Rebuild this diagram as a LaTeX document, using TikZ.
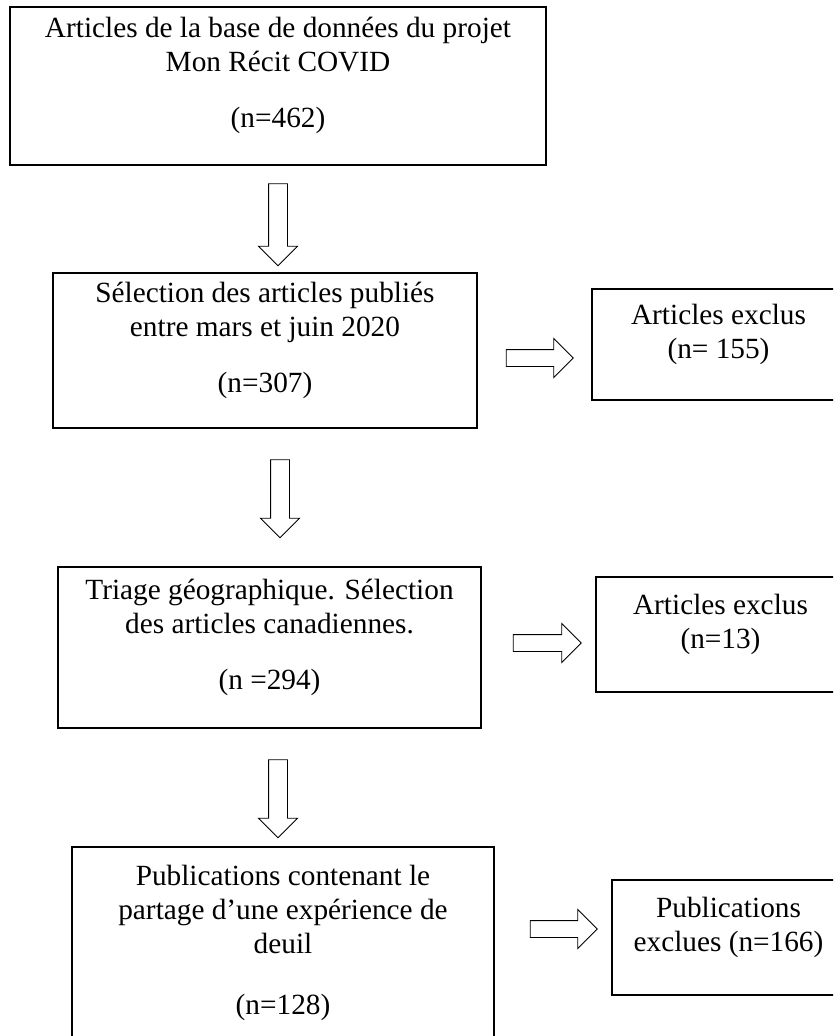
\documentclass[tikz,border=0pt]{standalone}
\usepackage{fontspec}
\setmainfont{Liberation Serif}
\usetikzlibrary{shapes.arrows, fit}

\tikzset{
  stepbox/.style={draw, line width=1.4pt, inner sep=0pt, align=center,
    font=\fontsize{25}{29}\selectfont},
  blockarrow/.style={draw, single arrow, line width=0.8pt, inner sep=0.27cm,
    single arrow head extend=0.3cm, single arrow tip angle=90, minimum width=0pt},
  sidearrow/.style={blockarrow, inner sep=0.24cm, single arrow head extend=0.33cm},
}

\begin{document}
\begin{tikzpicture}[x=0.03cm, y=-0.03cm]
\path[use as bounding box, clip] (0,0) rectangle (833,1036);

% main column
\node[stepbox, fit={(10,7) (546,165)}] (base)
  {Articles de la base de données du projet\\Mon Récit COVID\\[19pt](n=462)};
\node[stepbox, fit={(53,273) (477,428)}] (dates)
  {Sélection des articles publiés\\entre mars et juin 2020\\[19pt](n=307)};
\node[stepbox, fit={(58,567) (481,728)}] (geo)
  {Triage géographique. Sélection\\des articles canadiennes.\\[19pt](n =294)};
\node[stepbox, fit={(72,847) (494,1060)}] (deuil)
  {Publications contenant le\\partage d’une expérience de\\deuil\\[23pt](n=128)};

% excluded
\node[stepbox, fit={(592,289) (845,400)}] (excl1) {Articles exclus\\(n= 155)};
\node[stepbox, fit={(596,577) (845,692)}] (excl2) {Articles exclus\\(n=13)};
\node[stepbox, fit={(612,880) (845,995)}] (excl3) {Publications\\exclues (n=166)};

% arrows down
\node[blockarrow, rotate=-90, minimum height=2.46cm] (d1) at (278,220) {};
\node[blockarrow, rotate=-90, minimum height=2.34cm] (d2) at (280,494) {};
\node[blockarrow, rotate=-90, minimum height=2.34cm] (d3) at (278,794) {};

% arrows right
\node[sidearrow, minimum height=2.01cm] (r1) at (535.5,358) {};
\node[sidearrow, minimum height=2.04cm] (r2) at (543,643) {};
\node[sidearrow, minimum height=2.01cm] (r3) at (559.5,929) {};
\end{tikzpicture}
\end{document}
